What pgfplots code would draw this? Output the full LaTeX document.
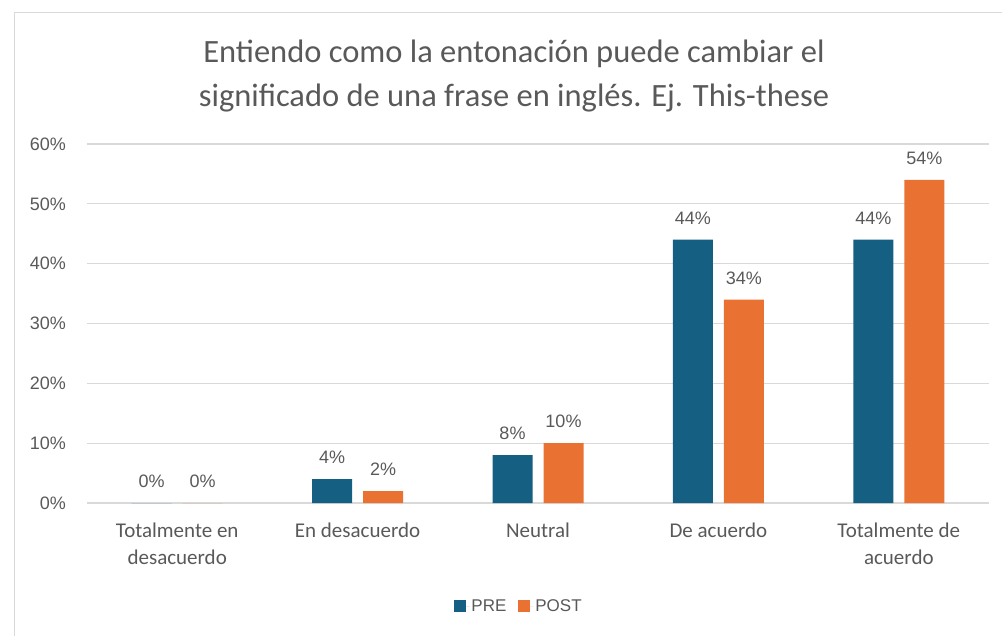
\documentclass[border=0pt]{standalone}
\usepackage{fontspec}
\setmainfont{Liberation Sans}
\newfontfamily\catfont{Carlito}
\usepackage{pgfplots}
\pgfplotsset{compat=1.18}
\definecolor{pre}{HTML}{156082}
\definecolor{post}{HTML}{E97132}
\definecolor{txt}{HTML}{595959}
\definecolor{gridc}{HTML}{D9D9D9}

\begin{document}
\begin{tikzpicture}[x=1pt,y=1pt]
\useasboundingbox (0,0) rectangle (1002,635);
\draw[gridc, line width=1.5pt] (14.5,-10) -- (14.5,622.5) -- (1012,622.5);
\node[txt, align=center, font=\catfont\fontsize{32.5}{44}\selectfont] at (514,559)
  {Entiendo como la entonación puede cambiar el\\significado de una frase en inglés. Ej. This-these};
\begin{axis}[
    at={(87pt,132pt)}, anchor=south west,
    width=902pt, height=359pt, scale only axis,
    /pgf/number format/assume math mode=true,
    ymin=0, ymax=60, ytick={0,10,...,60},
    xmin=-0.5, xmax=4.5,
    xtick={0,...,4},
    xticklabels={Totalmente en\\desacuerdo, En desacuerdo, Neutral, De acuerdo, Totalmente de\\acuerdo},
    ybar=11pt, bar width=40pt,
    axis line style={draw=none},
    major tick length=0pt,
    ymajorgrids, grid style={gridc, line width=1.2pt},
    yticklabel={\pgfmathprintnumber{\tick}\%},
    yticklabel style={font=\fontsize{18}{20}\selectfont, txt, inner sep=0pt, anchor=east, xshift=-21pt},
    xticklabel style={font=\catfont\fontsize{21}{27}\selectfont, txt, align=center, anchor=north, inner sep=0pt, yshift=-20pt},
    nodes near coords={\pgfmathprintnumber{\pgfplotspointmeta}\%},
    nodes near coords style={font=\fontsize{18}{20}\selectfont, txt, inner sep=0pt, anchor=south, yshift=15pt},
    clip=false,
    legend style={draw=none, at={(0.479,-0.287)}, anchor=center, legend columns=2,
        font=\fontsize{17}{19}\selectfont, text=txt,
        /tikz/every even column/.append style={column sep=10pt}},
    legend image code/.code={\path (0pt,0pt) -- (15pt,0pt); \fill[#1] (0pt,-6pt) rectangle (12pt,6pt);},
]
\addplot[fill=pre, draw=none] coordinates {(0,0) (1,4) (2,8) (3,44) (4,44)};
\addplot[fill=post, draw=none] coordinates {(0,0) (1,2) (2,10) (3,34) (4,54)};
\legend{PRE,POST}
\end{axis}
\end{tikzpicture}
\end{document}
